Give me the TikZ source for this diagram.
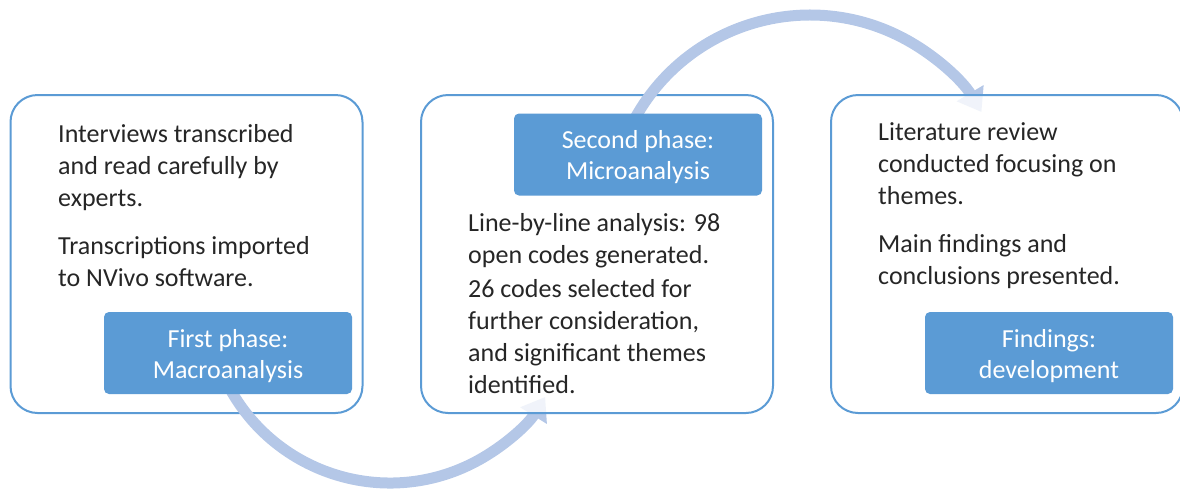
\documentclass[tikz,border=0pt]{standalone}
\usepackage{fontspec}
\setmainfont{Carlito}
\usepackage{tikz}
\usetikzlibrary{arrows.meta}
\definecolor{edgeblue}{HTML}{5B9BD5}
\definecolor{flowblue}{HTML}{B4C7E7}
\definecolor{inkgray}{HTML}{262626}

\begin{document}
\begin{tikzpicture}[x=1pt, y=1pt,
  panel/.style={draw=edgeblue, line width=2pt, rounded corners=27pt, fill=white, minimum width=352pt, minimum height=318pt},
  tag/.style={fill=edgeblue, rounded corners=5pt, minimum width=248pt, minimum height=82pt, align=center, text=white,
    text height=56pt, text depth=6pt, font=\fontsize{26}{31}\selectfont},
  txt/.style={anchor=base west, align=left, inner sep=0pt, text=inkgray, font=\fontsize{26}{32}\selectfont},
  flow/.style={draw=flowblue, line width=11pt, -{Triangle[width=30pt, length=22pt]}}]
\useasboundingbox (0,0) rectangle (1180,-488);
\node[panel] (first) at (186.5,-254) {};
\coordinate (s1) at (228.4,-385.9);
\draw[flow] (s1) arc[start angle=208, end angle=328, radius=183];
\node[panel, fill opacity=0.8] (second) at (597,-254) {};
\coordinate (s2) at (634.1,-119.9);
\draw[flow] (s2) arc[start angle=151.6, end angle=31, radius=200];
\node[panel, fill opacity=0.8] (third) at (1007,-254) {};
\node[tag] (macro) at (228,-353) {First phase:\\Macroanalysis};
\node[tag] (micro) at (638,-154.5) {Second phase:\\Microanalysis};
\node[tag] (find)  at (1049,-353) {Findings:\\development};
% text blocks placed by their last baseline
\node[txt] (t1) at (58,-286) {Interviews transcribed\\and read carefully by\\experts.\\[16pt]Transcriptions imported\\to NVivo software.};
\node[txt] (t2) at (468,-393) {Line-by-line analysis: 98\\open codes generated.\\[2pt]26 codes selected for\\further consideration,\\and significant themes\\identified.};
\node[txt] (t3) at (878,-284) {Literature review\\conducted focusing on\\themes.\\[16pt]Main findings and\\conclusions presented.};
\end{tikzpicture}
\end{document}
